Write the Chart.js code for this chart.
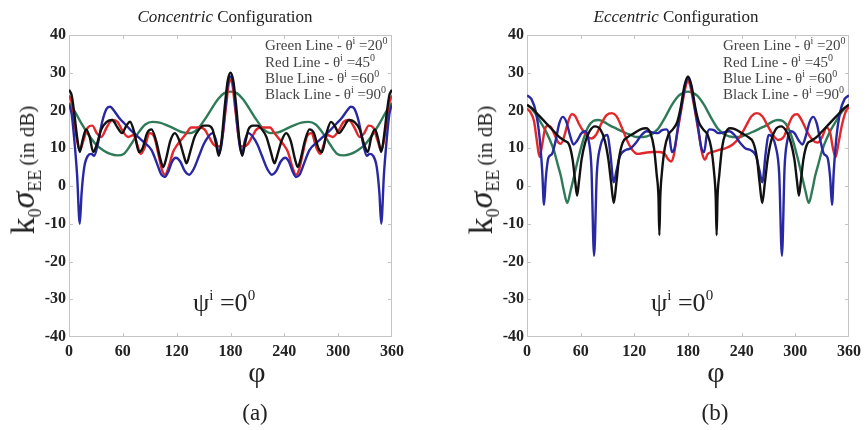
<!DOCTYPE html>
<html><head><meta charset="utf-8">
<script src="https://cdn.jsdelivr.net/npm/chart.js@4.4.0/dist/chart.umd.min.js"></script>
<style>
body{margin:0;background:#fff;width:866px;height:430px;overflow:hidden;position:relative;font-family:"Liberation Serif","Times New Roman",serif;}
.c{position:absolute;top:0;width:433px;height:430px;}
.t{position:absolute;white-space:nowrap;color:#222;transform:translate(-50%,-50%);line-height:1;}
.lg{position:absolute;white-space:nowrap;color:#444;font-size:15px;line-height:16px;height:16px;}
.lg sup{font-size:10px;vertical-align:0;position:relative;top:-6px;line-height:0;}
.psi{position:absolute;white-space:nowrap;color:#222;font-size:26px;line-height:1;}
.psi sup{font-size:15px;vertical-align:0;position:relative;top:-11px;line-height:0;}
.yl{position:absolute;white-space:nowrap;color:#222;transform:translate(-50%,-50%) rotate(-90deg);line-height:1;}
.yl .big{font-size:34px;}
.yl sub{font-size:18px;vertical-align:0;position:relative;top:7px;line-height:0;}
.yl .sm{font-size:21px;}
</style></head><body>
<div class="c" style="left:0"><canvas id="ca" width="433" height="430"></canvas></div>
<div class="c" style="left:433px"><canvas id="cb" width="433" height="430"></canvas></div>

<div class="t" style="left:225px;top:16px;font-size:17px"><i>Concentric</i> Configuration</div>
<div class="t" style="left:676px;top:16px;font-size:17px"><i>Eccentric</i> Configuration</div>

<div class="lg" style="left:265px;top:37px">Green Line - θ<sup>i</sup> =20<sup>0</sup></div>
<div class="lg" style="left:265px;top:54px">Red Line - θ<sup>i</sup> =45<sup>0</sup></div>
<div class="lg" style="left:265px;top:70px">Blue Line - θ<sup>i</sup> =60<sup>0</sup></div>
<div class="lg" style="left:265px;top:86px">Black Line - θ<sup>i</sup> =90<sup>0</sup></div>
<div class="lg" style="left:723px;top:37px">Green Line - θ<sup>i</sup> =20<sup>0</sup></div>
<div class="lg" style="left:723px;top:54px">Red Line - θ<sup>i</sup> =45<sup>0</sup></div>
<div class="lg" style="left:723px;top:70px">Blue Line - θ<sup>i</sup> =60<sup>0</sup></div>
<div class="lg" style="left:723px;top:86px">Black Line - θ<sup>i</sup> =90<sup>0</sup></div>

<div class="psi" style="left:193px;top:290px">ψ<sup>i</sup> =0<sup>0</sup></div>
<div class="psi" style="left:651px;top:290px">ψ<sup>i</sup> =0<sup>0</sup></div>

<div class="yl" style="left:23px;top:170px"><span class="big">k<sub>0</sub><i>σ</i><sub>EE</sub></span> <span class="sm">(in dB)</span></div>
<div class="yl" style="left:481px;top:170px"><span class="big">k<sub>0</sub><i>σ</i><sub>EE</sub></span> <span class="sm">(in dB)</span></div>

<div class="t" style="left:257px;top:372px;font-size:30px">φ</div>
<div class="t" style="left:716px;top:372px;font-size:30px">φ</div>
<div class="t" style="left:255px;top:412px;font-size:23px">(a)</div>
<div class="t" style="left:715px;top:412px;font-size:23px">(b)</div>

<script>
// ---------- tick labels ----------
const xTicks = [0, 60, 120, 180, 240, 300, 360];
const yTicks = [-40, -30, -20, -10, 0, 10, 20, 30, 40];

// ---------- (a) Concentric configuration ----------
const concPhiGreen = [0,7,14,22,30,38,46,54,61,69,77,85,93,101,110,119,127,135,143,151,159,166,173,180,187,194,201,209,217,225,233,241,250,259,267,275,283,291,299,306,314,322,330,338,346,353,360];
const concGreen    = [22,19.5,16.5,13.5,11,9.5,8.5,8.1,8.5,11,14,16.3,17,16.8,16,15,14.2,14,15,17.5,20.5,23,24.6,25,24.6,23,20.5,17.5,15,14,14.2,15,16,16.8,17,16.3,14,11,8.5,8.1,8.5,9.5,11,13.5,16.5,19.5,22];

const concPhiRed = [0,3,6,9,12,16,21,26,31,36,42,48,54,60,66,72,76,80,84,90,95,100,104,107,111,116,121,126,131,136,141,146,151,156,161,165,168,171,175,178,180,182,185,189,192,195,199,204,209,214,219,224,229,234,239,244,249,253,256,260,265,270,276,280,284,288,294,300,306,312,318,324,329,334,339,344,348,351,354,357,360];
const concRed    = [24,22,17,12,9.5,12,15.5,16,14,13,15.5,17.5,17,14.5,13,13.5,11,8.5,10,14,13,8,4,3,5,9,11,12.5,14,15.5,15.5,15.5,15,13,11,10.5,10.5,13,21,27,28,27,21,13,10.5,10.5,11,13,15,15.5,15.5,15.5,14,12.5,11,9,5,3,4,8,13,14,10,8.5,11,13.5,13,14.5,17,17.5,15.5,13,14,16,15.5,12,9.5,12,17,22,24];

const concPhiBlue = [0,3,6,9,12,14,17,21,25,28,32,37,42,46,50,56,62,70,77,84,92,98,103,107,111,115,119,124,129,134,139,145,150,155,160,164,167,170,174,177,180,183,186,190,193,196,200,205,210,215,221,226,231,236,241,245,249,253,257,262,268,276,283,290,298,304,310,314,318,323,328,332,335,339,343,346,348,351,354,357,360];
const concBlue    = [21.5,19,12,3,-10,-2,5,8,8.5,8,11,17,20.5,21,20,18,16.5,14.5,13,11.5,9.5,6,3,2.4,4,6.5,7.5,6.5,4,3,4.5,8,11,13,14,12,8.5,11,20,27,29,27,20,11,8.5,12,14,13,11,8,4.5,3,4,6.5,7.5,6.5,4,2.4,3,6,9.5,11.5,13,14.5,16.5,18,20,21,20.5,17,11,8,8.5,8,5,-2,-10,3,12,19,21.5];

const concPhiBlack = [0,3,6,9,12,15,19,23,27,31,36,42,48,54,59,64,68,73,78,82,87,92,97,102,105,108,113,118,123,128,131,135,140,145,150,155,160,164,167,170,174,177,180,183,186,190,193,196,200,205,210,215,220,225,229,232,237,242,247,252,255,258,263,268,273,278,282,287,292,296,301,306,312,318,324,329,333,337,341,345,348,351,354,357,360];
const concBlack    = [25.5,24,19,13,9,12,15,13,9,11,15,17,17.5,15.5,14,16,17,14,9,10,14,15,12,7,5,7,12,14,12,8,6,9,13,15,16,16,15,11,8,12,22,28,30,28,22,12,8,11,15,16,16,15,13,9,6,8,12,14,12,7,5,7,12,15,14,10,9,14,17,16,14,15.5,17.5,17,15,11,9,13,15,12,9,13,19,24,25.5];

// ---------- (b) Eccentric configuration ----------
const eccPhiGreen = [0,5,10,15,20,25,30,34,38,41,45,49,53,57,62,68,74,80,86,93,100,108,115,122,130,138,146,154,162,170,175,180,185,190,198,206,214,222,230,238,245,252,260,267,274,280,286,292,298,303,307,311,315,319,322,326,330,335,340,345,350,355,360];
const eccGreen    = [21.5,20.5,19,17,15,12.5,9.5,6,2.5,-1,-4.5,-1,3,7,11.5,15.5,17.2,17.5,17,16,15.2,14.3,13.6,13,13,13.5,15,18,21.5,24,24.7,25,24.7,24,21.5,18,15,13.5,13,13,13.6,14.3,15.2,16,17,17.5,17.2,15.5,11.5,7,3,-1,-4.5,-1,2.5,6,9.5,12.5,15,17,19,20.5,21.5];

const eccPhiRed = [0,4,8,11,14,17,20,23,27,31,35,38,42,46,50,54,58,63,68,72,77,83,89,95,100,106,112,118,124,132,140,148,154,158,161,164,168,173,177,180,183,187,192,196,199,202,207,214,222,230,238,245,251,257,263,269,275,281,287,292,297,302,308,314,320,325,330,335,339,342,345,348,352,356,360];
const eccRed    = [20.5,19.5,17,12,7.7,11,15,16,15.5,13.5,11.5,11.2,13.5,17,19,18.5,16.5,14.5,13,12.6,13.5,16.5,18.8,19.3,18.5,15.5,12,9.5,8.5,8.8,9,9,8.5,7,6.5,8,14,21,26,28,26,21,14,8.5,7,8.5,9,9.5,10,11,13,16,18.5,19.3,18.5,16,13.5,12.2,13,16,18.5,19,17,14,12,11.5,13,15.5,14,10,7.7,11,16,19.5,21];

const eccPhiBlue = [0,5,10,14,17,19,21,24,28,32,36,40,44,48,52,56,61,65,69,72,75,78,82,86,90,93,97,100,104,110,116,122,128,134,140,146,151,156,159,162,165,169,174,177,180,183,186,191,195,198,201,204,209,214,220,226,232,238,244,250,256,260,263,267,270,274,278,282,285,288,291,295,299,304,308,312,316,320,324,328,332,336,339,341,343,346,350,355,360];
const eccBlue    = [24,23,19.5,13,4,-5,2,7.5,8.5,12,16.5,18.3,17,13.5,11,12,14,14.5,12,5,-18.5,3,10.5,13,13.5,9,1,4,8,9.5,10,11.5,13.5,14.5,14.2,14,14.8,15,13.5,9,10,16,23,27,28.5,27,23,16,10,9,13.5,15,14.8,14,14.2,14.5,13.5,11.5,10,9.5,8,4,1,9,13.5,13,10.5,3,-18.5,5,12,14.5,14,12,11,13.5,17,18.3,16.5,12,8.5,7.5,2,-5,4,13,19.5,23,24];

const eccPhiBlack = [0,6,12,18,24,30,36,42,47,51,54,56,58,61,65,70,76,82,87,91,94,97,100,103,107,113,120,127,133,138,142,145,147,148,149,151,154,158,163,168,172,176,180,184,188,192,197,202,206,209,211,212,213,215,218,222,227,233,240,247,253,257,260,263,266,269,273,278,284,290,295,299,302,304,306,309,313,318,324,330,336,342,348,354,360];
const eccBlack    = [21.5,20.5,19,17.5,16,14.5,13,12,11,7,1,-2.5,1,7,11.5,14.5,15.8,15,12,7,1,-4.5,1,7.5,11.5,13,14,15,15.3,14,10,3,-3,-13,-3,4,10,13.5,15,17,21,26.5,29,26.5,21,17,15,13.5,10,4,-3,-13,-3,3,10,14,15.3,15,14,13,11.5,7.5,1,-4.5,1,7,12,15,15.8,14.5,11.5,7,1,-2.5,1,7,11,12,13,14.5,16,17.5,19,20.5,21.5];

const COLORS = {green:'#2f7a58', red:'#e3282b', blue:'#2828a2', black:'#111111'};

function pts(phi, val){ return phi.map((p,i)=>({x:p, y:val[i]})); }

const framePlugin = {
  id:'frame',
  beforeDatasetsDraw(chart){
    const {ctx, chartArea:a, scales:{x, y}} = chart;
    ctx.save();
    ctx.strokeStyle = '#c4c4c4';
    ctx.lineWidth = 1;
    ctx.strokeRect(a.left+0.5, a.top+0.5, a.right-a.left-1, a.bottom-a.top-1);
    ctx.beginPath();
    xTicks.forEach(v=>{
      if (v<=xTicks[0] || v>=xTicks[xTicks.length-1]) return;
      const px = Math.round(x.getPixelForValue(v))+0.5;
      ctx.moveTo(px, a.bottom); ctx.lineTo(px, a.bottom-4);
      ctx.moveTo(px, a.top); ctx.lineTo(px, a.top+4);
    });
    yTicks.forEach(v=>{
      if (v<=yTicks[0] || v>=yTicks[yTicks.length-1]) return;
      const py = Math.round(y.getPixelForValue(v))+0.5;
      ctx.moveTo(a.left, py); ctx.lineTo(a.left+4, py);
      ctx.moveTo(a.right, py); ctx.lineTo(a.right-4, py);
    });
    ctx.stroke();
    ctx.restore();
  }
};

function makeChart(id, left, right, series){
  const YW = 40, XH = 30;
  return new Chart(document.getElementById(id), {
    type:'line',
    data:{datasets: series.map(s=>({
      data: pts(s.phi, s.val),
      borderColor: s.color,
      borderWidth: 2.4,
      pointRadius: 0,
      cubicInterpolationMode: 'monotone',
      fill: false
    }))},
    options:{
      responsive:false, animation:false, events:[],
      layout:{padding:{left:left-YW, right:433-right, top:35, bottom:430-337-XH}},
      plugins:{legend:{display:false}, tooltip:{enabled:false}},
      scales:{
        x:{type:'linear', min:xTicks[0], max:xTicks[xTicks.length-1],
           afterBuildTicks(s){ s.ticks = xTicks.map(v=>({value:v})); },
           afterFit(s){ s.height = XH; },
           grid:{display:false, drawTicks:false}, border:{display:false},
           ticks:{padding:5, maxRotation:0, autoSkip:false, color:'#222',
                  font:{family:'"Liberation Serif", serif', size:16, weight:'bold'}}},
        y:{type:'linear', min:yTicks[0], max:yTicks[yTicks.length-1],
           afterBuildTicks(s){ s.ticks = yTicks.map(v=>({value:v})); },
           afterFit(s){ s.width = YW; },
           grid:{display:false, drawTicks:false}, border:{display:false},
           ticks:{padding:3, autoSkip:false, color:'#222',
                  font:{family:'"Liberation Serif", serif', size:16, weight:'bold'}}}
      }
    },
    plugins:[framePlugin]
  });
}

makeChart('ca', 69, 392, [
  {phi:concPhiBlack, val:concBlack, color:COLORS.black},
  {phi:concPhiBlue,  val:concBlue,  color:COLORS.blue},
  {phi:concPhiRed,   val:concRed,   color:COLORS.red},
  {phi:concPhiGreen, val:concGreen, color:COLORS.green}
]);
makeChart('cb', 527-433, 851-433, [
  {phi:eccPhiBlack, val:eccBlack, color:COLORS.black},
  {phi:eccPhiBlue,  val:eccBlue,  color:COLORS.blue},
  {phi:eccPhiRed,   val:eccRed,   color:COLORS.red},
  {phi:eccPhiGreen, val:eccGreen, color:COLORS.green}
]);
</script>
</body></html>
